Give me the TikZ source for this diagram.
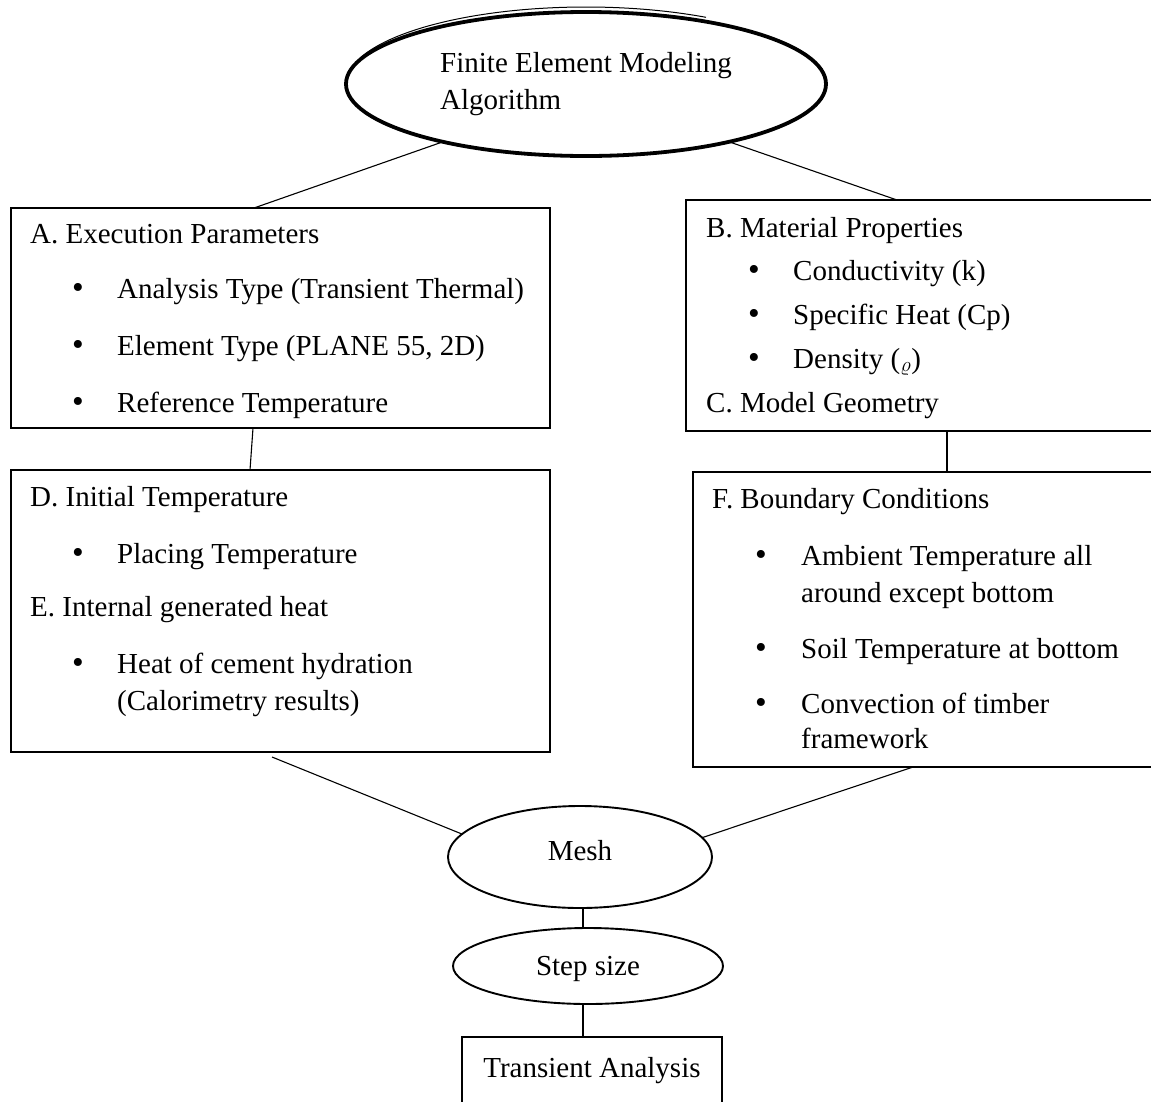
\documentclass[tikz,border=0pt]{standalone}
\usepackage{fontspec}
\setmainfont{Liberation Serif}
\usepackage{tikz}
\usetikzlibrary{shapes.geometric}
\tikzset{every node/.append style={font=\fontsize{29}{37}\selectfont}}
\tikzset{
  box/.style={draw,line width=2.4pt,inner sep=0pt,outer sep=0pt},
  oval/.style={draw,ellipse,line width=1.9pt,inner sep=0pt,outer sep=0pt},
  link/.style={line width=1.1pt},
  txt/.style={anchor=base west,inner sep=0pt},
  blt/.style={anchor=base,inner sep=0pt,scale=1.15}
}

\begin{document}
\begin{tikzpicture}[x=1pt,y=-1pt]
  \useasboundingbox (0,0) rectangle (1151,1101);
  \node[oval,line width=3.8pt,minimum width=480pt,minimum height=144pt,align=left]
    (fem) at (586,84) {Finite Element Modeling\\Algorithm};
  \draw[line width=1pt] (fem.center) ++(200:240 and 77)
    arc[start angle=200,end angle=300,x radius=240,y radius=77];

  \node[box,minimum width=539pt,minimum height=220pt] (boxA) at (280.5,318) {};
  \node[box,minimum width=467pt,minimum height=231pt] (boxB) at (919.5,315.5) {};
  \node[box,minimum width=539pt,minimum height=282pt] (boxD) at (280.5,611) {};
  \node[box,minimum width=460pt,minimum height=295pt] (boxF) at (923,619.5) {};
  \node[oval,minimum width=264pt,minimum height=102pt,text depth=14pt] (mesh) at (580,857) {Mesh};
  \node[oval,minimum width=270pt,minimum height=76pt,text depth=0pt] (step) at (588,966) {Step size};
  \node[box,minimum width=260pt,minimum height=67pt] (trans) at (592,1070.5) {Transient Analysis};

  \node[txt] (tA) at (30,243) {A. Execution Parameters};
  \foreach \y/\s [count=\i] in {298/Analysis Type (Transient Thermal),
      355/{Element Type (PLANE 55, 2D)},412/Reference Temperature}{
    \node[blt] (bA\i) at (78,\y) {\textbullet};
    \node[txt] (iA\i) at (117,\y) {\s};
  }

  \node[txt] (tB) at (706,237) {B. Material Properties};
  \foreach \y/\s [count=\i] in {280/Conductivity (k),324/Specific Heat (Cp),
      368/Density ($_\varrho$)}{
    \node[blt] (bB\i) at (754,\y) {\textbullet};
    \node[txt] (iB\i) at (793,\y) {\s};
  }
  \node[txt] (tC) at (706,412) {C. Model Geometry};

  \node[txt] (tD) at (30,506) {D. Initial Temperature};
  \node[blt] (bD1) at (78,563) {\textbullet};
  \node[txt] (iD1) at (117,563) {Placing Temperature};
  \node[txt] (tE) at (30,616) {E. Internal generated heat};
  \node[blt] (bE1) at (78,673) {\textbullet};
  \node[txt] (iE1) at (117,673) {Heat of cement hydration};
  \node[txt] (iE2) at (117,710) {(Calorimetry results)};

  \node[txt] (tF) at (712,508) {F. Boundary Conditions};
  \foreach \y in {565,658,713}
    \node[blt] (bF\y) at (761,\y) {\textbullet};
  \node[txt] (iF1) at (801,565) {Ambient Temperature all};
  \node[txt] (iF2) at (801,602) {around except bottom};
  \node[txt] (iF3) at (801,658) {Soil Temperature at bottom};
  \node[txt] (iF4) at (801,713) {Convection of timber};
  \node[txt] (iF5) at (801,748) {framework};

  \draw[link] (fem.202) -- ([xshift=243pt]boxA.north west);
  \draw[link] (fem.338) -- ([xshift=211pt]boxB.north west);
  \draw[link] ([xshift=242pt]boxA.south west) -- ([xshift=239pt]boxD.north west);
  \draw[link] ([xshift=261pt]boxB.south west) -- ([xshift=254pt]boxF.north west);
  \draw[link] ([xshift=261pt,yshift=-5pt]boxD.south west) -- (mesh.169);
  \draw[link] ([xshift=220pt]boxF.south west) -- (mesh.9);
  \draw[link] ([xshift=3pt]mesh.south) -- ([xshift=-5pt]step.north);
  \draw[link] ([xshift=-5pt]step.south) -- ([xshift=-9pt]trans.north);
\end{tikzpicture}
\end{document}
